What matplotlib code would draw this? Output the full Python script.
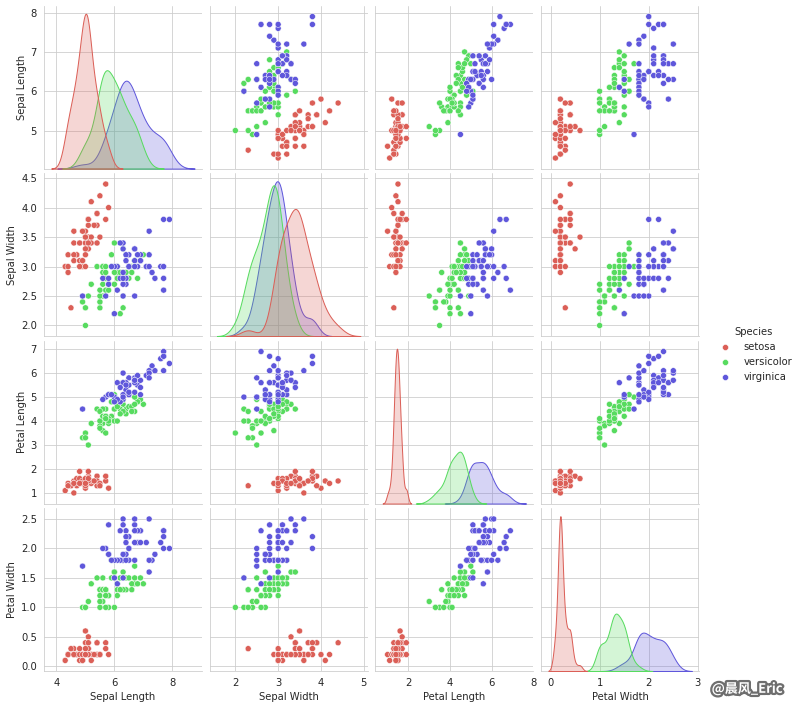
import matplotlib
matplotlib.use("Agg")
import matplotlib.pyplot as plt
import matplotlib.patheffects as pe
from matplotlib.ticker import MaxNLocator
import pandas as pd
import seaborn as sns

# iris data: sepal length, sepal width, petal length, petal width
setosa = [
    [5.1, 3.5, 1.4, 0.2], [4.9, 3.0, 1.4, 0.2], [4.7, 3.2, 1.3, 0.2], [4.6, 3.1, 1.5, 0.2],
    [5.0, 3.6, 1.4, 0.2], [5.4, 3.9, 1.7, 0.4], [4.6, 3.4, 1.4, 0.3], [5.0, 3.4, 1.5, 0.2],
    [4.4, 2.9, 1.4, 0.2], [4.9, 3.1, 1.5, 0.1], [5.4, 3.7, 1.5, 0.2], [4.8, 3.4, 1.6, 0.2],
    [4.8, 3.0, 1.4, 0.1], [4.3, 3.0, 1.1, 0.1], [5.8, 4.0, 1.2, 0.2], [5.7, 4.4, 1.5, 0.4],
    [5.4, 3.9, 1.3, 0.4], [5.1, 3.5, 1.4, 0.3], [5.7, 3.8, 1.7, 0.3], [5.1, 3.8, 1.5, 0.3],
    [5.4, 3.4, 1.7, 0.2], [5.1, 3.7, 1.5, 0.4], [4.6, 3.6, 1.0, 0.2], [5.1, 3.3, 1.7, 0.5],
    [4.8, 3.4, 1.9, 0.2], [5.0, 3.0, 1.6, 0.2], [5.0, 3.4, 1.6, 0.4], [5.2, 3.5, 1.5, 0.2],
    [5.2, 3.4, 1.4, 0.2], [4.7, 3.2, 1.6, 0.2], [4.8, 3.1, 1.6, 0.2], [5.4, 3.4, 1.5, 0.4],
    [5.2, 4.1, 1.5, 0.1], [5.5, 4.2, 1.4, 0.2], [4.9, 3.1, 1.5, 0.2], [5.0, 3.2, 1.2, 0.2],
    [5.5, 3.5, 1.3, 0.2], [4.9, 3.6, 1.4, 0.1], [4.4, 3.0, 1.3, 0.2], [5.1, 3.4, 1.5, 0.2],
    [5.0, 3.5, 1.3, 0.3], [4.5, 2.3, 1.3, 0.3], [4.4, 3.2, 1.3, 0.2], [5.0, 3.5, 1.6, 0.6],
    [5.1, 3.8, 1.9, 0.4], [4.8, 3.0, 1.4, 0.3], [5.1, 3.8, 1.6, 0.2], [4.6, 3.2, 1.4, 0.2],
    [5.3, 3.7, 1.5, 0.2], [5.0, 3.3, 1.4, 0.2],
]
versicolor = [
    [7.0, 3.2, 4.7, 1.4], [6.4, 3.2, 4.5, 1.5], [6.9, 3.1, 4.9, 1.5], [5.5, 2.3, 4.0, 1.3],
    [6.5, 2.8, 4.6, 1.5], [5.7, 2.8, 4.5, 1.3], [6.3, 3.3, 4.7, 1.6], [4.9, 2.4, 3.3, 1.0],
    [6.6, 2.9, 4.6, 1.3], [5.2, 2.7, 3.9, 1.4], [5.0, 2.0, 3.5, 1.0], [5.9, 3.0, 4.2, 1.5],
    [6.0, 2.2, 4.0, 1.0], [6.1, 2.9, 4.7, 1.4], [5.6, 2.9, 3.6, 1.3], [6.7, 3.1, 4.4, 1.4],
    [5.6, 3.0, 4.5, 1.5], [5.8, 2.7, 4.1, 1.0], [6.2, 2.2, 4.5, 1.5], [5.6, 2.5, 3.9, 1.1],
    [5.9, 3.2, 4.8, 1.8], [6.1, 2.8, 4.0, 1.3], [6.3, 2.5, 4.9, 1.5], [6.1, 2.8, 4.7, 1.2],
    [6.4, 2.9, 4.3, 1.3], [6.6, 3.0, 4.4, 1.4], [6.8, 2.8, 4.8, 1.4], [6.7, 3.0, 5.0, 1.7],
    [6.0, 2.9, 4.5, 1.5], [5.7, 2.6, 3.5, 1.0], [5.5, 2.4, 3.8, 1.1], [5.5, 2.4, 3.7, 1.0],
    [5.8, 2.7, 3.9, 1.2], [6.0, 2.7, 5.1, 1.6], [5.4, 3.0, 4.5, 1.5], [6.0, 3.4, 4.5, 1.6],
    [6.7, 3.1, 4.7, 1.5], [6.3, 2.3, 4.4, 1.3], [5.6, 3.0, 4.1, 1.3], [5.5, 2.5, 4.0, 1.3],
    [5.5, 2.6, 4.4, 1.2], [6.1, 3.0, 4.6, 1.4], [5.8, 2.6, 4.0, 1.2], [5.0, 2.3, 3.3, 1.0],
    [5.6, 2.7, 4.2, 1.3], [5.7, 3.0, 4.2, 1.2], [5.7, 2.9, 4.2, 1.3], [6.2, 2.9, 4.3, 1.3],
    [5.1, 2.5, 3.0, 1.1], [5.7, 2.8, 4.1, 1.3],
]
virginica = [
    [6.3, 3.3, 6.0, 2.5], [5.8, 2.7, 5.1, 1.9], [7.1, 3.0, 5.9, 2.1], [6.3, 2.9, 5.6, 1.8],
    [6.5, 3.0, 5.8, 2.2], [7.6, 3.0, 6.6, 2.1], [4.9, 2.5, 4.5, 1.7], [7.3, 2.9, 6.3, 1.8],
    [6.7, 2.5, 5.8, 1.8], [7.2, 3.6, 6.1, 2.5], [6.5, 3.2, 5.1, 2.0], [6.4, 2.7, 5.3, 1.9],
    [6.8, 3.0, 5.5, 2.1], [5.7, 2.5, 5.0, 2.0], [5.8, 2.8, 5.1, 2.4], [6.4, 3.2, 5.3, 2.3],
    [6.5, 3.0, 5.5, 1.8], [7.7, 3.8, 6.7, 2.2], [7.7, 2.6, 6.9, 2.3], [6.0, 2.2, 5.0, 1.5],
    [6.9, 3.2, 5.7, 2.3], [5.6, 2.8, 4.9, 2.0], [7.7, 2.8, 6.7, 2.0], [6.3, 2.7, 4.9, 1.8],
    [6.7, 3.3, 5.7, 2.1], [7.2, 3.2, 6.0, 1.8], [6.2, 2.8, 4.8, 1.8], [6.1, 3.0, 4.9, 1.8],
    [6.4, 2.8, 5.6, 2.1], [7.2, 3.0, 5.8, 1.6], [7.4, 2.8, 6.1, 1.9], [7.9, 3.8, 6.4, 2.0],
    [6.4, 2.8, 5.6, 2.2], [6.3, 2.8, 5.1, 1.5], [6.1, 2.6, 5.6, 1.4], [7.7, 3.0, 6.1, 2.3],
    [6.3, 3.4, 5.6, 2.4], [6.4, 3.1, 5.5, 1.8], [6.0, 3.0, 4.8, 1.8], [6.9, 3.1, 5.4, 2.1],
    [6.7, 3.1, 5.6, 2.4], [6.9, 3.1, 5.1, 2.3], [5.8, 2.7, 5.1, 1.9], [6.8, 3.2, 5.9, 2.3],
    [6.7, 3.3, 5.7, 2.5], [6.7, 3.0, 5.2, 2.3], [6.3, 2.5, 5.0, 1.9], [6.5, 3.0, 5.2, 2.0],
    [6.2, 3.4, 5.4, 2.3], [5.9, 3.0, 5.1, 1.8],
]
columns = ["Sepal Length", "Sepal Width", "Petal Length", "Petal Width"]
species = ["setosa", "versicolor", "virginica"]

frames = []
for name, rows in zip(species, [setosa, versicolor, virginica]):
    d = pd.DataFrame(rows, columns=columns)
    d["Species"] = name
    frames.append(d)
df = pd.concat(frames, ignore_index=True)

sns.set_style("whitegrid")
plt.rcParams["font.family"] = ["DejaVu Sans"]
plt.rcParams["font.size"] = 10
plt.rcParams["axes.labelsize"] = 10
plt.rcParams["xtick.labelsize"] = 10
plt.rcParams["ytick.labelsize"] = 10
plt.rcParams["legend.fontsize"] = 10
plt.rcParams["legend.title_fontsize"] = 10

g = sns.pairplot(df, hue="Species", palette="hls")

W, H = 801, 709
fig = g.fig
fig.set_size_inches(W / 72, H / 72)
fig.subplots_adjust(left=44 / W, right=699 / W, top=1 - 6 / H, bottom=1 - 671 / H,
                    wspace=0.05, hspace=0.03)
g._legend.set_bbox_to_anchor((1.0, 0.5))

# old-style autoscale: leave room for the marker radius too
ax_h = 163.0
pad_px = 3.5
for i in range(4):
    ax = g.axes[i, 0]
    lo, hi = ax.get_ylim()
    upp = (hi - lo) / (ax_h - 2 * pad_px)
    ax.set_ylim(lo - pad_px * upp, hi + pad_px * upp)
    # fewer y ticks, like the original (bigger facets)
    ax.yaxis.set_major_locator(MaxNLocator(nbins=7, steps=[1, 2, 2.5, 5, 10]))

fig.text(0.977, 0.028, "@晨风_Eric", ha="right", va="center", color="white",
         fontsize=13, fontweight="bold", family=["Noto Sans CJK SC", "DejaVu Sans"],
         path_effects=[pe.withStroke(linewidth=4.5, foreground="#6e6e6e")])

fig.savefig("out.png", dpi=72)
